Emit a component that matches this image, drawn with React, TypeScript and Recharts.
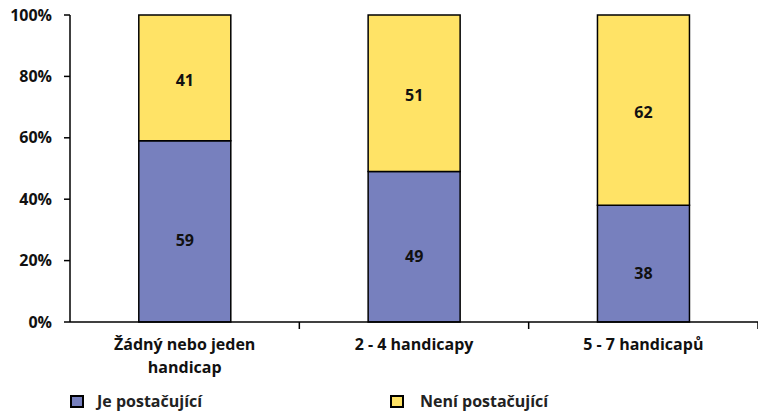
import React from "react";
import { BarChart, Bar, XAxis, YAxis, LabelList } from "recharts";

const categories = ["Žádný nebo jeden handicap", "2 - 4 handicapy", "5 - 7 handicapů"];
const tickLabels = [["Žádný nebo jeden", "handicap"], ["2 - 4 handicapy"], ["5 - 7 handicapů"]];
const jePostacujici = [59, 49, 38];
const neniPostacujici = [41, 51, 62];
const yTicks = [0, 20, 40, 60, 80, 100];
const seriesNames = ["Je postačující", "Není postačující"];
const seriesColors = ["#7780BE", "#FFE366"];

const data = categories.map((c, i) => ({
  name: c,
  je: jePostacujici[i],
  neni: neniPostacujici[i],
}));

const FONT = "'Open Sans', Lato, sans-serif";

const CatTick = (props: any) => {
  const { x, y, payload } = props;
  const idx = categories.indexOf(payload.value);
  const lines = tickLabels[idx] || [payload.value];
  const half =
    typeof payload.offset === "number" && payload.offset > 0
      ? payload.offset
      : props.width / (props.visibleTicksCount || categories.length) / 2;
  return (
    <g transform={`translate(${x},${y})`}>
      <line x1={half} x2={half} y1={-8} y2={-1} stroke="#000" strokeWidth={1.5} />
      {lines.map((l: string, i: number) => (
        <text
          key={i}
          x={0}
          y={20 + i * 23}
          textAnchor="middle"
          fontFamily={FONT}
          fontWeight={700}
          fontSize={16}
          fill="#111"
        >
          {l}
        </text>
      ))}
    </g>
  );
};

const makeLabel = (dy: number) => (props: any) => {
  const { x, y, width, height, value } = props;
  return (
    <text
      x={x + width / 2}
      y={y + height / 2 + dy}
      textAnchor="middle"
      dominantBaseline="central"
      fontFamily={FONT}
      fontWeight={700}
      fontSize={16}
      fill="#111"
    >
      {value}
    </text>
  );
};

export default function App() {
  return (
    <div style={{ position: "absolute", left: 0, top: 0, width: 758, height: 411, background: "#fff" }}>
      <BarChart
        width={758}
        height={411}
        data={data}
        margin={{ top: 15, right: 0, left: 0, bottom: 29 }}
        barCategoryGap="30%"
      >
        <XAxis
          dataKey="name"
          tick={<CatTick />}
          tickLine={false}
          tickSize={6}
          tickMargin={2}
          axisLine={{ stroke: "#000", strokeWidth: 1.5 }}
          height={60}
          interval={0}
        />
        <YAxis
          domain={[0, 100]}
          ticks={yTicks}
          tickFormatter={(v: number) => `${v}%`}
          width={70}
          axisLine={{ stroke: "#000", strokeWidth: 1.5 }}
          tickLine={{ stroke: "#000", strokeWidth: 1.5 }}
          tickSize={6}
          tick={{ fontFamily: FONT, fontWeight: 700, fontSize: 16, fill: "#111" }}
          tickMargin={12}
        />
        <Bar dataKey="je" stackId="a" fill={seriesColors[0]} stroke="#000" strokeWidth={1.5} isAnimationActive={false} name={seriesNames[0]}>
          <LabelList dataKey="je" content={makeLabel(9)} />
        </Bar>
        <Bar dataKey="neni" stackId="a" fill={seriesColors[1]} stroke="#000" strokeWidth={1.5} isAnimationActive={false} name={seriesNames[1]}>
          <LabelList dataKey="neni" content={makeLabel(2)} />
        </Bar>
      </BarChart>
      {seriesNames.map((n, i) => (
        <div
          key={n}
          style={{
            position: "absolute",
            left: i === 0 ? 70 : 390,
            top: 393,
            display: "flex",
            alignItems: "center",
            fontFamily: FONT,
            fontWeight: 700,
            fontSize: 16,
            lineHeight: "16px",
            color: "#222",
          }}
        >
          <span
            style={{
              display: "inline-block",
              width: 10,
              height: 9,
              background: seriesColors[i],
              border: "2px solid #000",
              marginRight: i === 0 ? 13 : 16,
            }}
          />
          {n}
        </div>
      ))}
    </div>
  );
}
